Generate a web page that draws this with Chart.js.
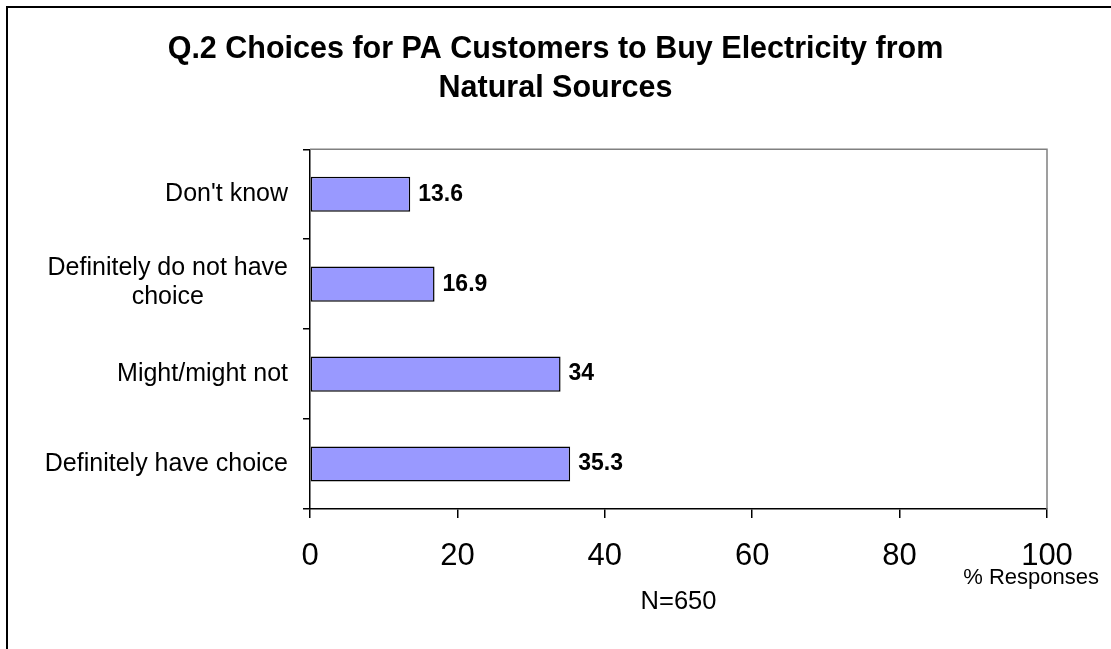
<!DOCTYPE html>
<html>
<head>
<meta charset="utf-8">
<script src="https://cdn.jsdelivr.net/npm/chart.js@4/dist/chart.umd.min.js"></script>
<style>
  html, body { margin: 0; padding: 0; background: #fff; }
  #wrap { width: 1111px; height: 649px; }
</style>
</head>
<body>
<div id="wrap"><canvas id="choiceChart" width="1111" height="649"></canvas></div>
<script>
// data
let categories = ["Don't know", "Definitely do not have choice", "Might/might not", "Definitely have choice"];
let categoryLines = [["Don't know"], ["Definitely do not have", "choice"], ["Might/might not"], ["Definitely have choice"]];
let responses = [13.6, 16.9, 34, 35.3];
let xTicks = [0, 20, 40, 60, 80, 100];
let titleLines = ['Q.2 Choices for PA Customers to Buy Electricity from', 'Natural Sources'];
let sampleNote = 'N=650';
let unitNote = '% Responses';

let fontFamily = "'Liberation Sans', Arial, sans-serif";

// outer frame, plot border, category labels, value labels
let extras = {
    id: 'extras',
    beforeDraw(chart) {
        let c = chart.ctx;
        c.save();
        c.fillStyle = '#fff';
        c.fillRect(0, 0, chart.width, chart.height);
        c.strokeStyle = '#000';
        c.lineWidth = 2;
        c.beginPath();
        c.moveTo(7, chart.height);
        c.lineTo(7, 7);
        c.lineTo(chart.width, 7);
        c.stroke();
        c.restore();
    },
    beforeDatasetsDraw(chart) {
        let a = chart.chartArea;
        let c = chart.ctx;
        c.save();
        c.strokeStyle = '#808080';
        c.lineWidth = 1.5;
        c.beginPath();
        c.moveTo(a.left, a.top);
        c.lineTo(a.right, a.top);
        c.lineTo(a.right, a.bottom);
        c.stroke();
        c.restore();
    },
    afterDraw(chart) {
        let c = chart.ctx;
        let yScale = chart.scales.y;
        let xScale = chart.scales.x;
        c.save();
        c.fillStyle = '#000';
        c.textBaseline = 'middle';

        // category labels: block right-aligned, lines centered in block
        c.font = '25px ' + fontFamily;
        c.textAlign = 'center';
        let rightEdge = yScale.right - 22;
        categoryLines.forEach((lines, i) => {
            let w = Math.max(...lines.map(l => c.measureText(l).width));
            let cx = rightEdge - w / 2;
            let cy = yScale.getPixelForValue(i);
            let lh = 29;
            let shift = lines.length > 1 ? -2 : 0;
            lines.forEach((l, j) => {
                c.fillText(l, cx, cy + shift + (j - (lines.length - 1) / 2) * lh);
            });
        });

        // value labels
        c.font = 'bold 23px ' + fontFamily;
        c.textAlign = 'left';
        chart.getDatasetMeta(0).data.forEach((bar, i) => {
            c.fillText(String(responses[i]), bar.x + 8, bar.y);
        });

        // unit note
        c.font = '22px ' + fontFamily;
        c.textAlign = 'right';
        c.fillText(unitNote, xScale.right + 52, xScale.top + 69);
        c.restore();
    }
};

let ctx = document.getElementById('choiceChart').getContext('2d');

let choiceChart = new Chart(ctx, {
    type: 'bar',
    data: {
        labels: categories,
        datasets: [{
            data: responses,
            backgroundColor: '#9999ff',
            borderColor: '#000',
            borderWidth: 1.5,
            borderSkipped: false,
            categoryPercentage: 1,
            barPercentage: 0.39
        }]
    },
    options: {
        indexAxis: 'y',
        responsive: false,
        animation: false,
        events: [],
        layout: { padding: { left: 64, right: 64, top: 0, bottom: 0 } },
        plugins: {
            legend: { display: false },
            tooltip: { enabled: false },
            title: {
                display: true,
                text: titleLines,
                color: '#000',
                font: { family: fontFamily, size: 30.5, weight: 'bold', lineHeight: 1.25 },
                padding: { top: 31, bottom: 42 }
            }
        },
        scales: {
            x: {
                min: 0,
                max: 100,
                afterBuildTicks(scale) {
                    scale.ticks = xTicks.map(v => ({ value: v }));
                },
                afterFit(scale) { scale.height = 140; },
                grid: { drawOnChartArea: false, color: '#000', tickLength: 9, lineWidth: 1.5 },
                border: { color: '#000', width: 1.5 },
                ticks: { color: '#000', padding: 20, font: { family: fontFamily, size: 31 } },
                title: {
                    display: true,
                    text: sampleNote,
                    color: '#000',
                    font: { family: fontFamily, size: 25.5 },
                    padding: { top: 32, bottom: 32 }
                }
            },
            y: {
                afterFit(scale) { scale.width = 246; },
                grid: { drawOnChartArea: false, color: '#000', tickLength: 7, lineWidth: 1.5, offset: true },
                border: { color: '#000', width: 1.5 },
                ticks: { display: false }
            }
        }
    },
    plugins: [extras]
});
</script>
</body>
</html>
